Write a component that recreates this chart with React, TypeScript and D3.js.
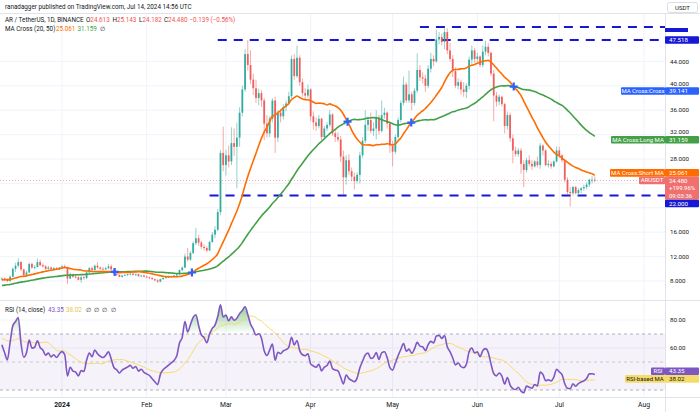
import React from "react";
import * as d3 from "d3";

// ---- data (AR/USDT daily, Binance) ----
// closes before the first visible candle (Oct 21 - Dec 9 2023), needed for MA / RSI warm-up
const preCloses = [
  4.9, 5.0, 5.3, 5.6, 5.5, 5.4, 5.5, 5.7, 5.8, 5.9, 6.0,
  6.1, 6.3, 6.2, 6.5, 6.7, 6.9, 6.8, 7.1, 7.5, 7.8, 7.6, 7.4, 7.3, 7.5, 7.9, 7.6, 7.4, 7.5, 7.6, 7.7,
  7.5, 7.8, 7.9, 8.0, 8.2, 8.1, 7.9, 8.0, 8.1, 8.2,
  8.3, 8.4, 8.6, 8.5, 8.3, 8.2, 8.4, 8.5, 8.3,
];
const firstDay = "2023-12-10";

const opens = [
  8.3, 8.4, 8.2, 8.0, 8.7, 10.0, 10.5, 11.1, 9.9, 9.0, 9.4, 10.8, 10.2, 10.3, 11.1, 10.6, 10.4, 10.0, 10.2, 9.9, 10.1, 9.9,
  10.2, 10.4, 10.2, 8.4, 9.1, 8.7, 8.6, 8.2, 8.6, 8.5, 9.4, 10.1, 9.8, 10.5, 10.2, 10.0, 9.9, 10.1, 10.4, 9.9, 9.2, 9.0, 8.7, 8.9, 9.0, 9.1, 9.2, 9.0, 9.1, 8.8, 8.9,
  8.7, 8.6, 8.5, 8.3, 8.1, 7.9, 8.3, 8.5, 8.6, 8.7, 8.8, 8.9, 9.1, 9.8, 10.2, 12.0, 11.5, 12.6, 14.2, 15.0, 14.3, 13.6, 13.4, 13.0, 14.4, 15.6, 16.4, 19.3, 29.0,
  27.0, 28.6, 27.6, 30.6, 30.0, 31.5, 35.6, 39.4, 45.2, 43.4, 41.0, 39.6, 38.0, 38.8, 37.6, 33.8, 32.2, 34.6, 37.6, 31.5, 35.6, 35.0, 36.5, 37.1, 38.3, 44.4, 41.6, 44.6, 40.6, 38.8, 38.4,
  39.4, 35.0, 34.0, 33.4, 34.6, 31.6, 33.0, 33.6, 35.3, 32.2, 31.6, 31.2, 28.4, 25.0, 27.8, 26.0, 25.1, 24.4, 25.4, 28.6, 31.0, 33.6, 34.4, 32.6, 33.0, 34.8, 32.6, 35.2, 35.6, 33.8,
  30.2, 29.2, 31.6, 34.4, 37.2, 40.2, 37.6, 38.6, 37.2, 39.2, 42.6, 41.4, 41.2, 40.0, 42.8, 44.4, 44.0, 47.6, 48.0, 47.2, 48.8, 45.8, 44.4, 42.4, 40.0, 40.6, 39.4, 39.0, 40.0, 44.3, 45.8,
  44.4, 44.8, 43.4, 45.6, 46.4, 45.4, 42.0, 38.4, 37.4, 38.2, 37.0, 33.4, 35.2, 31.4, 29.4, 28.8, 29.4, 27.2, 26.2, 27.8, 27.2, 26.8, 27.6, 27.0, 30.2, 29.4, 27.0, 27.2, 26.8, 27.6,
  29.4, 28.6, 27.8, 24.6, 22.6, 22.4, 23.4, 22.4, 22.9, 23.2, 23.4, 23.8, 24.6, 24.613,
];
const highs = [
  8.6, 8.6, 8.4, 8.9, 10.2, 11.0, 11.7, 11.3, 10.0, 9.7, 11.0, 11.0, 10.6, 11.7, 11.5, 10.9, 10.6, 10.5, 10.4, 10.3, 10.3, 10.3,
  10.6, 10.7, 10.4, 9.4, 9.2, 8.9, 8.8, 8.8, 8.9, 9.6, 10.3, 10.4, 10.7, 11.1, 10.4, 10.3, 10.3, 10.8, 10.7, 10.0, 9.4, 9.1, 9.0, 9.1, 9.2, 9.3, 9.3, 9.2, 9.2, 9.0, 9.0,
  8.9, 8.7, 8.6, 8.4, 8.3, 8.4, 8.6, 8.8, 8.9, 8.9, 9.0, 9.2, 9.9, 10.4, 12.5, 13.4, 12.9, 14.5, 16.7, 15.6, 14.6, 14.0, 13.7, 14.6, 16.0, 17.0, 19.8, 29.5, 33.3,
  29.5, 30.2, 33.2, 33.0, 34.0, 36.5, 40.0, 46.0, 47.5, 45.8, 42.0, 41.0, 39.5, 39.3, 38.0, 35.2, 35.0, 38.0, 38.2, 36.0, 36.2, 37.0, 37.6, 39.0, 45.0, 45.2, 46.6, 45.0, 41.2, 39.6, 40.2,
  39.6, 35.8, 34.8, 35.2, 34.8, 33.4, 34.0, 36.0, 35.5, 32.8, 32.4, 31.8, 29.4, 28.6, 28.8, 26.6, 25.8, 25.8, 29.2, 31.6, 36.0, 35.0, 35.6, 34.0, 36.0, 35.2, 37.6, 36.4, 35.8, 34.2,
  31.0, 32.0, 34.8, 37.6, 41.5, 40.6, 42.5, 39.0, 39.6, 45.3, 43.4, 42.2, 41.8, 43.4, 45.4, 45.0, 49.2, 48.8, 48.6, 49.6, 49.4, 47.0, 45.0, 43.0, 41.2, 41.0, 40.6, 40.4, 44.8, 46.6, 46.2,
  45.4, 45.0, 46.6, 47.4, 47.0, 45.6, 42.6, 39.0, 38.6, 38.4, 37.2, 35.8, 35.6, 32.0, 30.0, 29.8, 29.8, 27.8, 28.2, 28.6, 27.8, 27.8, 28.4, 30.6, 30.4, 29.6, 27.8, 27.6, 27.8, 30.0,
  30.0, 28.8, 28.0, 25.0, 23.4, 23.6, 23.6, 23.2, 23.4, 23.8, 24.2, 24.8, 25.2, 25.143,
];
const lows = [
  8.1, 8.0, 7.8, 7.9, 8.6, 9.5, 10.2, 9.6, 8.8, 8.9, 9.3, 10.0, 9.9, 10.2, 10.4, 10.2, 9.8, 9.8, 9.7, 9.7, 9.8, 9.8,
  10.0, 10.0, 7.5, 8.3, 8.5, 8.4, 8.1, 7.7, 8.2, 8.3, 9.3, 9.6, 9.7, 10.0, 9.8, 9.7, 9.8, 9.9, 9.8, 9.1, 8.8, 8.6, 8.5, 8.8, 8.8, 8.9, 8.9, 8.8, 8.7, 8.6, 8.6,
  8.5, 8.3, 8.2, 8.0, 7.7, 7.8, 8.2, 8.4, 8.5, 8.5, 8.6, 8.8, 9.0, 9.6, 10.1, 11.2, 11.3, 12.4, 13.9, 13.8, 13.2, 13.0, 12.7, 12.9, 14.2, 15.0, 16.2, 18.8, 26.0,
  25.3, 26.6, 27.0, 28.5, 23.2, 30.0, 35.0, 39.0, 42.5, 40.3, 38.5, 37.2, 36.8, 36.5, 31.1, 31.5, 31.6, 34.0, 29.0, 30.8, 34.0, 34.5, 35.8, 36.8, 38.0, 41.0, 41.3, 40.0, 38.2, 37.8, 38.0,
  34.2, 32.8, 32.6, 33.0, 31.0, 31.4, 32.6, 33.2, 31.8, 30.8, 30.8, 27.5, 22.1, 23.8, 25.4, 24.4, 23.0, 24.0, 24.0, 28.2, 30.6, 32.6, 32.2, 31.8, 31.2, 32.0, 32.3, 34.6, 33.0, 29.0,
  26.8, 28.8, 31.2, 34.0, 36.8, 37.2, 37.2, 36.0, 36.8, 38.8, 40.8, 40.4, 39.0, 39.6, 42.2, 43.2, 43.8, 46.8, 46.6, 46.0, 45.2, 44.0, 41.4, 39.6, 39.4, 38.6, 38.2, 38.0, 39.4, 43.4, 43.8,
  43.8, 43.0, 43.0, 45.0, 44.8, 41.6, 34.2, 36.6, 36.8, 36.6, 32.2, 32.8, 30.8, 27.3, 28.4, 28.4, 25.6, 23.4, 25.8, 26.8, 26.2, 26.6, 26.6, 26.4, 28.6, 26.8, 26.6, 26.4, 26.6, 27.4,
  28.2, 27.4, 24.2, 22.2, 20.2, 22.0, 22.2, 21.8, 22.4, 22.8, 23.0, 23.4, 24.0, 24.182,
];
const closes = [
  8.4, 8.2, 8.0, 8.7, 10.0, 10.5, 11.1, 9.9, 9.0, 9.4, 10.8, 10.2, 10.3, 11.1, 10.6, 10.4, 10.0, 10.2, 9.9, 10.1, 9.9, 10.2,
  10.4, 10.2, 8.4, 9.1, 8.7, 8.6, 8.2, 8.6, 8.5, 9.4, 10.1, 9.8, 10.5, 10.2, 10.0, 9.9, 10.1, 10.4, 9.9, 9.2, 9.0, 8.7, 8.9, 9.0, 9.1, 9.2, 9.0, 9.1, 8.8, 8.9, 8.7,
  8.6, 8.5, 8.3, 8.1, 7.9, 8.3, 8.5, 8.6, 8.7, 8.8, 8.9, 9.1, 9.8, 10.2, 12.0, 11.5, 12.6, 14.2, 15.0, 14.3, 13.6, 13.4, 13.0, 14.4, 15.6, 16.4, 19.3, 29.0, 27.0,
  28.6, 27.6, 30.6, 30.0, 31.5, 35.6, 39.4, 45.2, 43.4, 41.0, 39.6, 38.0, 38.8, 37.6, 33.8, 32.2, 34.6, 37.6, 31.5, 35.6, 35.0, 36.5, 37.1, 38.3, 44.4, 41.6, 44.6, 40.6, 38.8, 38.4, 39.4,
  35.0, 34.0, 33.4, 34.6, 31.6, 33.0, 33.6, 35.3, 32.2, 31.6, 31.2, 28.4, 25.0, 27.8, 26.0, 25.1, 24.4, 25.4, 28.6, 31.0, 33.6, 34.4, 32.6, 33.0, 34.8, 32.6, 35.2, 35.6, 33.8, 30.2,
  29.2, 31.6, 34.4, 37.2, 40.2, 37.6, 38.6, 37.2, 39.2, 42.6, 41.4, 41.2, 40.0, 42.8, 44.4, 44.0, 47.6, 48.0, 47.2, 48.8, 45.8, 44.4, 42.4, 40.0, 40.6, 39.4, 39.0, 40.0, 44.3, 45.8, 44.4,
  44.8, 43.4, 45.6, 46.4, 45.4, 42.0, 38.4, 37.4, 38.2, 37.0, 33.4, 35.2, 31.4, 29.4, 28.8, 29.4, 27.2, 26.2, 27.8, 27.2, 26.8, 27.6, 27.0, 30.2, 29.4, 27.0, 27.2, 26.8, 27.6, 29.4,
  28.6, 27.8, 24.6, 22.6, 22.4, 23.4, 22.4, 22.9, 23.2, 23.4, 23.8, 24.6, 24.613, 24.48,
];

const axisStart = "2024-01-01";
const axisEnd = "2024-08-01";
const priceTicks = [8, 12, 16, 20, 24, 28, 32, 36, 40, 44];
const rsiTicks = [60, 80];
const rsiLevels = [30, 50, 70];

const supportLevel = 22.0;
const supportFrom = "2024-02-24";
const resistanceLevel = 47.518;
const resistanceFrom = "2024-02-27";
const topLevel = 49.64;
const topFrom = "2024-05-11";

const lastPrice = 24.48;
const lastShortMA = 25.061;
const lastLongMA = 31.159;
const lastCross = 39.141;
const lastRSI = 43.35;
const lastRSIMA = 38.02;

// ---- styles ----
const FONT = "Roboto, 'Noto Sans', Arial, sans-serif";
const UP = "#26a69a";
const DOWN = "#ef5350";
const ORANGE = "#ff6d00";
const GREEN = "#43a047";
const BLUE = "#2962ff";
const LINEBLUE = "#1717d6";
const PURPLE = "#7e57c2";
const YELLOW = "#f5dc6a";
const GRID = "#f0f3fa";
const TEXT = "#131722";

const PLOT_R = 665;
const MAIN_TOP = 14;
const MAIN_BOT = 300;
const RSI_TOP = 301;
const RSI_BOT = 397;

function sma(arr: (number | null)[], n: number): (number | null)[] {
  return arr.map((_, i) => {
    if (i < n - 1) return null;
    let s = 0;
    for (let k = i - n + 1; k <= i; k++) {
      const v = arr[k];
      if (v == null) return null;
      s += v;
    }
    return s / n;
  });
}

function rsi(c: number[], n: number): (number | null)[] {
  const out: (number | null)[] = c.map(() => null);
  let g = 0, l = 0;
  for (let i = 1; i <= n; i++) {
    const d = c[i] - c[i - 1];
    if (d > 0) g += d; else l -= d;
  }
  g /= n; l /= n;
  out[n] = l === 0 ? 100 : 100 - 100 / (1 + g / l);
  for (let i = n + 1; i < c.length; i++) {
    const d = c[i] - c[i - 1];
    g = (g * (n - 1) + Math.max(d, 0)) / n;
    l = (l * (n - 1) + Math.max(-d, 0)) / n;
    out[i] = l === 0 ? 100 : 100 - 100 / (1 + g / l);
  }
  return out;
}

const utc = (s: string) => new Date(s + "T00:00:00Z");

export default function App() {
  const x = d3.scaleUtc().domain([utc(axisStart), utc(axisEnd)]).range([62, 644]);
  const y = d3.scaleLinear().domain([8, 48]).range([281, 37]);
  const yR = d3.scaleLinear().domain([30, 80]).range([390, 320]);

  const t0 = utc(firstDay).getTime();
  const dates = closes.map((_, i) => new Date(t0 + i * 86400000));
  const xs = dates.map((d) => x(d));

  const all = preCloses.concat(closes);
  const off = preCloses.length;
  const ma20 = sma(all, 20).slice(off);
  const ma50 = sma(all, 50).slice(off);
  const rsiAll = rsi(all, 14);
  const rsiMAAll = sma(rsiAll, 14);
  const rsiV = rsiAll.slice(off) as number[];
  const rsiMA = rsiMAAll.slice(off) as number[];

  const line = (vals: (number | null)[], sc: (v: number) => number) =>
    d3
      .line<number>()
      .defined((_, i) => vals[i] != null)
      .x((_, i) => xs[i])
      .y((_, i) => sc(vals[i] as number))
      .curve(d3.curveMonotoneX)(vals.map((_, i) => i)) || "";

  // MA crosses
  const crosses: [number, number][] = [];
  for (let i = 1; i < closes.length; i++) {
    const a0 = (ma20[i - 1] as number) - (ma50[i - 1] as number);
    const a1 = (ma20[i] as number) - (ma50[i] as number);
    if (a0 * a1 < 0) {
      const t = a0 / (a0 - a1);
      const cx = xs[i - 1] + t * (xs[i] - xs[i - 1]);
      const cv = (ma20[i - 1] as number) + t * ((ma20[i] as number) - (ma20[i - 1] as number));
      crosses.push([cx, y(cv)]);
    }
  }

  const overArea = d3
    .area<number>()
    .x((i) => xs[i])
    .y0(() => yR(70))
    .y1((i) => yR(Math.max(rsiV[i], 70)))(rsiV.map((_, i) => i)) || "";
  const underArea = d3
    .area<number>()
    .x((i) => xs[i])
    .y0(() => yR(30))
    .y1((i) => yR(Math.min(rsiV[i], 30)))(rsiV.map((_, i) => i)) || "";

  const months = x.ticks(d3.utcMonth.every(1) as any);
  const fmtTick = (d: Date) => (d.getUTCMonth() === 0 ? d3.utcFormat("%Y")(d) : d3.utcFormat("%b")(d));

  const bodyW = 1.8;
  const fs = 6.2;
  const BOX_H = 7.6;

  // right-side label positions
  const priceY = y(lastPrice);
  const priceBoxTop = priceY - BOX_H / 2;
  const PRICE_BOX_H = 23;
  const priceBoxBot = priceBoxTop + PRICE_BOX_H;
  const shortY = Math.min(y(lastShortMA), priceBoxTop - BOX_H / 2);
  const supY = Math.max(y(supportLevel), priceBoxBot + BOX_H / 2);
  const rsiY = yR(lastRSI);
  const rsiMAY = Math.max(yR(lastRSIMA), rsiY + BOX_H);

  // axis boxes occupy these spans; tick labels fully under them are hidden, labels
  // touching a box are set just above it (as on the original)
  const occupied: [number, number][] = [
    [y(resistanceLevel) - BOX_H / 2, y(resistanceLevel) + BOX_H / 2],
    [y(lastCross) - BOX_H / 2, y(lastCross) + BOX_H / 2],
    [y(lastLongMA) - BOX_H / 2, y(lastLongMA) + BOX_H / 2],
    [shortY - BOX_H / 2, shortY + BOX_H / 2],
    [priceBoxTop, priceBoxBot],
    [supY - BOX_H / 2, supY + BOX_H / 2],
  ];
  const tickLabels = priceTicks
    .filter((t) => !occupied.some(([a, b]) => y(t) >= a - 1 && y(t) <= b + 1))
    .map((t) => {
      let base = y(t) + 2.2;
      occupied.forEach(([a, b]) => {
        if (base - 4.6 < b && base + 1.4 > a && y(t) < a) base = a - 1.6;
      });
      return { t, base };
    });

  const valueBox = (cy: number, fill: string, text: string, color = "#fff") => (
    <g>
      <rect x={PLOT_R} y={cy - BOX_H / 2} width={34} height={BOX_H} fill={fill} rx={1} />
      <text x={PLOT_R + 4} y={cy + 2.1} fontSize={fs} fill={color}>{text}</text>
    </g>
  );
  const nameBox = (cy: number, w: number, fill: string, text: string, color = "#fff") => (
    <g>
      <rect x={PLOT_R - w} y={cy - BOX_H / 2} width={w} height={BOX_H} fill={fill} rx={1} />
      <text x={PLOT_R - w / 2} y={cy + 2.0} fontSize={fs - 0.2} fill={color} textAnchor="middle">{text}</text>
    </g>
  );

  return (
    <div style={{ position: "absolute", left: 0, top: 0 }}>
      <svg width={700} height={412} style={{ display: "block", background: "#fff" }} fontFamily={FONT}>
        <defs>
          <clipPath id="mainClip">
            <rect x={0} y={MAIN_TOP} width={PLOT_R} height={MAIN_BOT - MAIN_TOP} />
          </clipPath>
          <clipPath id="rsiClip">
            <rect x={0} y={RSI_TOP} width={PLOT_R} height={RSI_BOT - RSI_TOP} />
          </clipPath>
          <linearGradient id="obGrad" x1="0" x2="0" y1={yR(100)} y2={yR(70)} gradientUnits="userSpaceOnUse">
            <stop offset="0" stopColor="#4caf50" stopOpacity={0.9} />
            <stop offset="1" stopColor="#4caf50" stopOpacity={0} />
          </linearGradient>
          <linearGradient id="osGrad" x1="0" x2="0" y1={yR(30)} y2={yR(0)} gradientUnits="userSpaceOnUse">
            <stop offset="0" stopColor="#f23645" stopOpacity={0} />
            <stop offset="1" stopColor="#f23645" stopOpacity={0.9} />
          </linearGradient>
        </defs>

        {/* header */}
        <text x={5} y={8.5} fontSize={6.3} fill={TEXT}>ranadagger published on TradingView.com, Jul 14, 2024 14:56 UTC</text>
        <line x1={0} x2={700} y1={MAIN_TOP - 0.5} y2={MAIN_TOP - 0.5} stroke="#e0e3eb" />

        {/* grid */}
        {months.map((m, i) => (
          <line key={"vg" + i} x1={x(m)} x2={x(m)} y1={MAIN_TOP} y2={RSI_BOT} stroke={GRID} />
        ))}
        {priceTicks.map((t) => (
          <line key={"hg" + t} x1={0} x2={PLOT_R} y1={y(t)} y2={y(t)} stroke={GRID} />
        ))}
        {rsiTicks.map((t) => (
          <line key={"rg" + t} x1={0} x2={PLOT_R} y1={yR(t)} y2={yR(t)} stroke={GRID} />
        ))}

        {/* main pane */}
        <g clipPath="url(#mainClip)">
          <line x1={0} x2={PLOT_R} y1={priceY} y2={priceY} stroke={DOWN} strokeWidth={0.7} strokeDasharray="1,2" opacity={0.7} />
          {([
            [supportLevel, supportFrom],
            [resistanceLevel, resistanceFrom],
            [topLevel, topFrom],
          ] as [number, string][]).map(([v, f], i) => (
            <line key={"lv" + i} x1={x(utc(f))} x2={PLOT_R} y1={y(v)} y2={y(v)}
              stroke={LINEBLUE} strokeWidth={2} strokeDasharray="9,7" />
          ))}
          {closes.map((c, i) => {
            const o = opens[i];
            const up = c >= o;
            const col = up ? UP : DOWN;
            const top = y(Math.max(o, c));
            const h = Math.max(0.8, Math.abs(y(o) - y(c)));
            return (
              <g key={"c" + i}>
                <line x1={xs[i]} x2={xs[i]} y1={y(highs[i])} y2={y(lows[i])} stroke={col} strokeWidth={0.9} opacity={0.55} />
                <rect x={xs[i] - bodyW / 2} y={top} width={bodyW} height={h} fill={col} opacity={0.9} />
              </g>
            );
          })}
          <path d={line(ma50, y)} fill="none" stroke={GREEN} strokeWidth={1.6} />
          <path d={line(ma20, y)} fill="none" stroke={ORANGE} strokeWidth={1.6} />
          {crosses.map(([cx, cy], i) => (
            <path key={"x" + i} d={`M${cx - 4},${cy}H${cx + 4}M${cx},${cy - 4}V${cy + 4}`} stroke={BLUE} strokeWidth={2.2} />
          ))}
        </g>

        {/* legend */}
        <text y={21.5} fontSize={6.3} fill={TEXT}>
          <tspan x={5}>AR / TetherUS, 1D, BINANCE</tspan>
          <tspan x={86}>O</tspan><tspan fill={DOWN}>24.613</tspan>
          <tspan x={112.5}>H</tspan><tspan fill={DOWN}>25.143</tspan>
          <tspan x={139}>L</tspan><tspan fill={DOWN}>24.182</tspan>
          <tspan x={164}>C</tspan><tspan fill={DOWN}>24.480</tspan>
          <tspan x={189.5} fill={DOWN}>−0.139 (−0.56%)</tspan>
        </text>
        <text y={31} fontSize={6.3} fill={TEXT}>
          <tspan x={5}>MA Cross (20, 50)</tspan>
          <tspan x={56} fill={ORANGE}>25.061</tspan>
          <tspan x={77.5} fill={GREEN}>31.159</tspan>
          <tspan x={100}>∅</tspan>
        </text>

        {/* pane separators */}
        <line x1={0} x2={700} y1={MAIN_BOT + 0.5} y2={MAIN_BOT + 0.5} stroke="#e0e3eb" />
        <line x1={0} x2={700} y1={RSI_BOT + 0.5} y2={RSI_BOT + 0.5} stroke="#e0e3eb" />
        <line x1={PLOT_R + 0.5} x2={PLOT_R + 0.5} y1={MAIN_TOP} y2={412} stroke="#e0e3eb" />

        {/* RSI pane */}
        <rect x={0} y={yR(70)} width={PLOT_R} height={yR(30) - yR(70)} fill={PURPLE} opacity={0.08} />
        {rsiLevels.map((l) => (
          <line key={"rl" + l} x1={0} x2={PLOT_R} y1={yR(l)} y2={yR(l)} stroke="#787b86" strokeWidth={0.8}
            strokeDasharray="3,3" opacity={l === 50 ? 0.45 : 0.7} />
        ))}
        <g clipPath="url(#rsiClip)">
          <path d={overArea} fill="url(#obGrad)" />
          <path d={underArea} fill="url(#osGrad)" />
          <path d={line(rsiMA, yR)} fill="none" stroke={YELLOW} strokeWidth={1} />
          <path d={line(rsiV, yR)} fill="none" stroke={PURPLE} strokeWidth={1.6} />
        </g>
        <text y={312} fontSize={6.3} fill={TEXT}>
          <tspan x={5}>RSI (14, close)</tspan>
          <tspan x={48} fill={PURPLE}>{lastRSI.toFixed(2)}</tspan>
          <tspan x={66} fill="#e6c84a">{lastRSIMA.toFixed(2)}</tspan>
          <tspan x={86}>∅</tspan>
          <tspan x={94}>∅</tspan>
          <tspan x={102}>∅</tspan>
          <tspan x={110.5}>∅</tspan>
        </text>

        {/* price axis */}
        {tickLabels.map(({ t, base }) => (
          <text key={"pt" + t} x={670} y={base} fontSize={fs} fill={TEXT}>{t.toFixed(3)}</text>
        ))}
        {rsiTicks.map((t) => (
          <text key={"rt" + t} x={670} y={yR(t) + 2.2} fontSize={fs} fill={TEXT}>{t.toFixed(2)}</text>
        ))}

        {/* USDT tag */}
        <rect x={PLOT_R} y={y(topLevel) + 1} width={23} height={4} fill={LINEBLUE} />
        <rect x={667.5} y={2.5} width={30} height={10} rx={2} fill="#fff" stroke="#d1d4dc" strokeWidth={0.8} />
        <text x={682.5} y={10} fontSize={6} fill={TEXT} textAnchor="middle">USDT</text>

        {valueBox(y(resistanceLevel), LINEBLUE, resistanceLevel.toFixed(3))}
        {nameBox(y(lastCross), 44, BLUE, "MA Cross:Cross")}
        {valueBox(y(lastCross), BLUE, lastCross.toFixed(3))}
        {nameBox(y(lastLongMA), 54, GREEN, "MA Cross:Long MA")}
        {valueBox(y(lastLongMA), GREEN, lastLongMA.toFixed(3))}
        {nameBox(shortY, 55, ORANGE, "MA Cross:Short MA")}
        {valueBox(shortY, ORANGE, lastShortMA.toFixed(3))}
        {nameBox(priceY, 26, "#f07070", "ARUSDT")}
        <rect x={PLOT_R} y={priceBoxTop} width={34} height={PRICE_BOX_H} fill="#f07070" rx={1} />
        <text x={PLOT_R + 4} y={priceBoxTop + 6.3} fontSize={6} fill="#fff">{lastPrice.toFixed(3)}</text>
        <text x={PLOT_R + 4} y={priceBoxTop + 13.6} fontSize={6} fill="#fff">+199.96%</text>
        <text x={PLOT_R + 4} y={priceBoxTop + 20.9} fontSize={6} fill="#fff">09:03:36</text>
        {valueBox(supY, LINEBLUE, supportLevel.toFixed(3))}

        {nameBox(rsiY, 14, PURPLE, "RSI")}
        {valueBox(rsiY, PURPLE, lastRSI.toFixed(2))}
        {nameBox(rsiMAY, 40, YELLOW, "RSI-based MA", TEXT)}
        {valueBox(rsiMAY, YELLOW, lastRSIMA.toFixed(2), TEXT)}

        {/* time axis */}
        {months.map((m, i) => (
          <text key={"tl" + i} x={x(m)} y={406.5} fontSize={6.8} fill={TEXT} textAnchor="middle"
            fontWeight={m.getUTCMonth() === 0 ? 700 : 400}>{fmtTick(m)}</text>
        ))}
      </svg>
    </div>
  );
}
